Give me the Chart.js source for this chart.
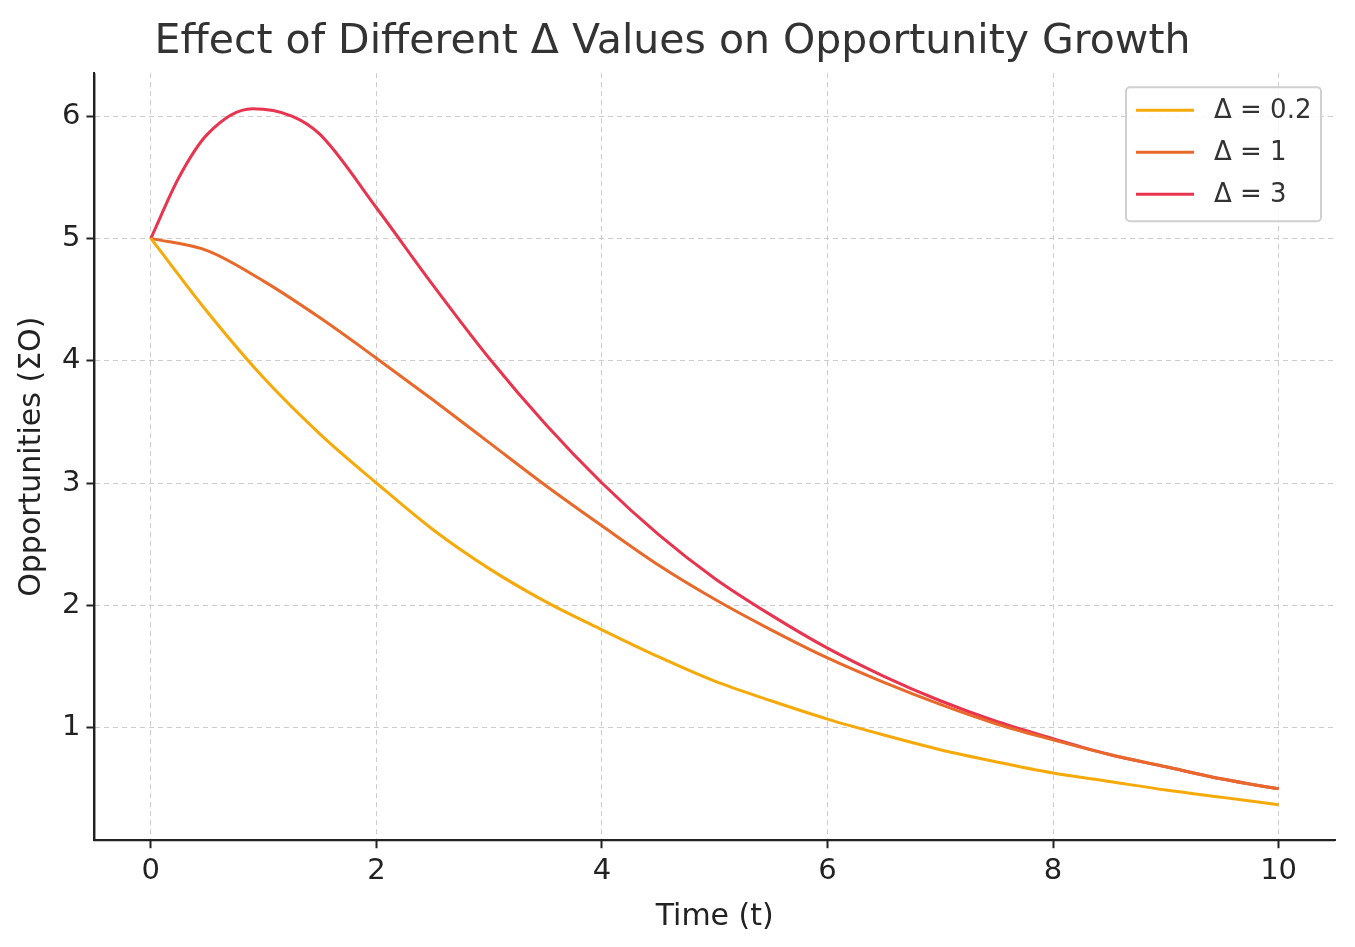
<!DOCTYPE html>
<html><head><meta charset="utf-8">
<script src="https://cdn.jsdelivr.net/npm/chart.js@4/dist/chart.umd.min.js"></script>
<style>html,body{margin:0;padding:0;background:#fff}#w{width:1355px;height:947px}</style>
</head><body><div id="w"><canvas id="c"></canvas></div>
<script>
const seriesLabels = ['Δ = 0.2', 'Δ = 1', 'Δ = 3'];
const seriesColors = ['#F5AA0A', '#E8692A', '#E8344F'];
const tA = [0,0.5,1,1.5,2,2.5,3,3.5,4,4.5,5,5.5,6,6.5,7,7.5,8,8.5,9,9.5,10];
const yA = [5,4.4,3.86,3.4,3.0,2.62,2.3,2.03,1.8,1.58,1.38,1.22,1.07,0.94,0.82,0.72,0.63,0.56,0.49,0.43,0.37];
const yB = [5,4.9,4.65,4.35,4.02,3.68,3.33,2.98,2.65,2.33,2.05,1.8,1.57,1.37,1.19,1.03,0.9,0.78,0.68,0.58,0.5];
const tC = [0,0.25,0.5,0.9,1.25,1.5,2,2.5,3,3.5,4,4.5,5,5.5,6,6.5,7,7.5,8,8.5,9,9.5,10];
const yC = [5,5.5,5.85,6.06,6.0,5.85,5.25,4.62,4.02,3.48,3.0,2.58,2.22,1.92,1.65,1.42,1.22,1.05,0.91,0.78,0.68,0.58,0.5];
const xTicks = [0,2,4,6,8,10];
const yTicks = [1,2,3,4,5,6];
const F = 'DejaVu Sans';
const pts = (xs, ys) => xs.map((x,i)=>({x, y: ys[i]}));
const sets = [pts(tA,yA), pts(tA,yB), pts(tC,yC)];

const legendBox = {
  id:'legendBox',
  afterDatasetsDraw(ch){
    const c = ch.ctx, a = ch.chartArea;
    const bx = a.right - 209, by = a.top + 14, bw = 195, bh = 134;
    c.save();
    c.fillStyle='rgba(255,255,255,0.85)';
    c.strokeStyle='#d0d0d0'; c.lineWidth=2;
    c.beginPath(); c.roundRect(bx,by,bw,bh,4); c.fill(); c.stroke();
    c.font = '26px "'+F+'"'; c.textBaseline='middle'; c.fillStyle='#333';
    ch.data.datasets.forEach((d,i)=>{
      const y = by + 23 + i*42;
      c.strokeStyle=d.borderColor; c.lineWidth=3;
      c.beginPath(); c.moveTo(bx+10,y); c.lineTo(bx+68,y); c.stroke();
      c.fillText(d.label, bx+88, y+1);
    });
    c.restore();
  }
};

new Chart(document.getElementById('c'), {
  type:'line',
  data:{datasets: sets.map((d,i)=>({label:seriesLabels[i], data:d, borderColor:seriesColors[i], borderWidth:3, pointRadius:0, cubicInterpolationMode:'monotone', fill:false}))},
  options:{
    responsive:true, maintainAspectRatio:false, animation:false,
    layout:{padding:{left:10,right:20,top:0,bottom:8}},
    plugins:{
      legend:{display:false}, tooltip:{enabled:false},
      title:{display:true, text:'Effect of Different Δ Values on Opportunity Growth', color:'#333', font:{family:F,size:41,weight:'normal'}, padding:{top:18,bottom:6}}
    },
    scales:{
      x:{type:'linear', min:-0.5, max:10.5,
        afterBuildTicks(s){ s.ticks = xTicks.map(v=>({value:v})); },
        ticks:{color:'#222', font:{family:F,size:29}, padding:6},
        grid:{color:'#cccccc', lineWidth:1, tickColor:'#222', tickLength:8, tickWidth:2},
        border:{color:'#222', width:2, dash:[5,4]},
        title:{display:true, text:'Time (t)', color:'#222', font:{family:F,size:30}, padding:{top:4}}
      },
      y:{min:0.08, max:6.35,
        afterBuildTicks(s){ s.ticks = yTicks.map(v=>({value:v})); },
        ticks:{color:'#222', font:{family:F,size:29}, padding:6},
        grid:{color:'#cccccc', lineWidth:1, tickColor:'#222', tickLength:8, tickWidth:2},
        border:{color:'#222', width:2, dash:[5,4]},
        title:{display:true, text:'Opportunities (ΣO)', color:'#222', font:{family:F,size:30}, padding:{bottom:6}}
      }
    }
  },
  plugins:[legendBox, {
    id:'solidAxes',
    afterDraw(ch){
      const c=ch.ctx,a=ch.chartArea;
      c.save(); c.strokeStyle='#222'; c.lineWidth=2; c.setLineDash([]);
      c.beginPath(); c.moveTo(a.left,a.top); c.lineTo(a.left,a.bottom); c.lineTo(a.right,a.bottom); c.stroke();
      c.restore();
    }
  }]
});
</script></body></html>
